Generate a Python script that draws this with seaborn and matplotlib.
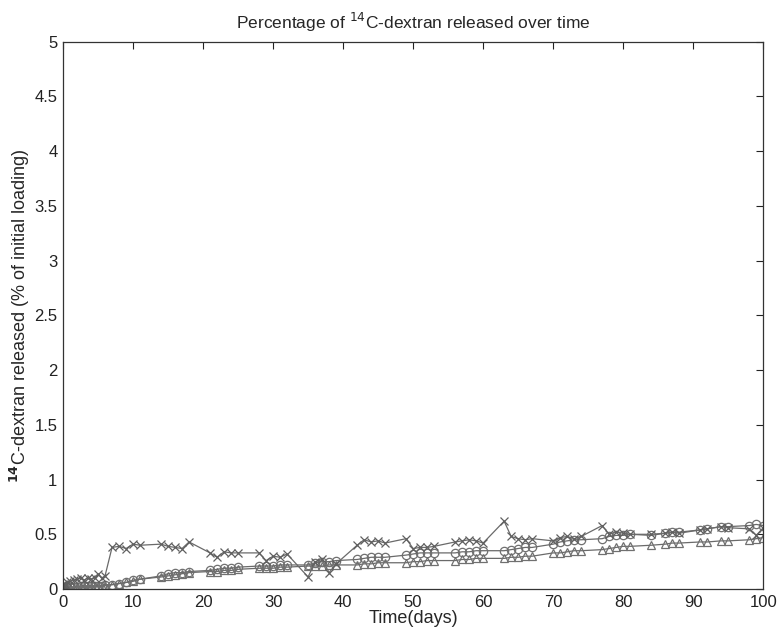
import matplotlib
matplotlib.use("Agg")
import matplotlib.pyplot as plt
import seaborn as sns
import pandas as pd

days = [0, 0.04, 0.08, 0.17, 0.25, 0.5, 1, 1.5, 2, 2.5, 3, 3.5, 4, 4.5, 5, 5.5, 6,
        7, 8, 9, 10, 11, 14, 15, 16, 17, 18, 21, 22, 23, 24, 25, 28, 29, 30, 31, 32,
        35, 36, 37, 38, 39, 42, 43, 44, 45, 46, 49, 50, 51, 52, 53, 56, 57, 58, 59, 60,
        63, 64, 65, 66, 67, 70, 71, 72, 73, 74, 77, 78, 79, 80, 81, 84, 86, 87, 88,
        91, 92, 94, 95, 98, 99, 100]

cross_vals = [0.05, 0.02, 0.03, 0.04, 0.05, 0.06, 0.07, 0.08, 0.09, 0.10, 0.08, 0.10, 0.09, 0.10, 0.14, 0.10, 0.12,
              0.38, 0.39, 0.37, 0.41, 0.40, 0.41, 0.39, 0.38, 0.37, 0.43, 0.33, 0.29, 0.34, 0.33, 0.33,
              0.33, 0.26, 0.30, 0.29, 0.32, 0.11, 0.25, 0.27, 0.15, 0.23, 0.40, 0.45, 0.43, 0.44, 0.42,
              0.46, 0.37, 0.38, 0.38, 0.39, 0.43, 0.44, 0.45, 0.44, 0.42, 0.62, 0.48, 0.46, 0.45, 0.46,
              0.44, 0.47, 0.48, 0.46, 0.48, 0.58, 0.50, 0.52, 0.51, 0.50, 0.50, 0.51, 0.52, 0.51,
              0.54, 0.55, 0.57, 0.56, 0.55, 0.49, 0.56]

circle_vals = [0.02, 0.01, 0.01, 0.01, 0.01, 0.02, 0.02, 0.02, 0.02, 0.03, 0.03, 0.03, 0.03, 0.03, 0.03, 0.03, 0.04,
               0.04, 0.05, 0.06, 0.08, 0.09, 0.12, 0.14, 0.15, 0.15, 0.16, 0.17, 0.18, 0.19, 0.19, 0.20,
               0.21, 0.21, 0.21, 0.22, 0.22, 0.22, 0.24, 0.25, 0.25, 0.26, 0.27, 0.28, 0.29, 0.29, 0.29,
               0.31, 0.32, 0.33, 0.33, 0.33, 0.33, 0.34, 0.34, 0.35, 0.35, 0.35, 0.36, 0.37, 0.38, 0.38,
               0.41, 0.43, 0.44, 0.45, 0.45, 0.46, 0.48, 0.49, 0.49, 0.50, 0.49, 0.51, 0.52, 0.52,
               0.54, 0.55, 0.57, 0.57, 0.58, 0.59, 0.58]

tri_vals = [0.00, 0.00, 0.00, 0.01, 0.01, 0.01, 0.01, 0.01, 0.02, 0.02, 0.02, 0.02, 0.02, 0.03, 0.03, 0.03, 0.03,
            0.04, 0.05, 0.06, 0.07, 0.09, 0.11, 0.12, 0.13, 0.14, 0.15, 0.16, 0.16, 0.17, 0.17, 0.18,
            0.19, 0.19, 0.19, 0.20, 0.20, 0.21, 0.21, 0.21, 0.22, 0.22, 0.22, 0.23, 0.23, 0.24, 0.24,
            0.24, 0.25, 0.25, 0.26, 0.26, 0.26, 0.27, 0.27, 0.28, 0.28, 0.28, 0.29, 0.29, 0.30, 0.30,
            0.33, 0.33, 0.34, 0.35, 0.35, 0.36, 0.37, 0.38, 0.39, 0.39, 0.40, 0.41, 0.42, 0.42,
            0.43, 0.43, 0.44, 0.44, 0.45, 0.46, 0.47]

xticks = [0, 10, 20, 30, 40, 50, 60, 70, 80, 90, 100]
yticks = [0, 0.5, 1, 1.5, 2, 2.5, 3, 3.5, 4, 4.5, 5]
ytick_labels = ["0", "0.5", "1", "1.5", "2", "2.5", "3", "3.5", "4", "4.5", "5"]

sns.set_style("white")
plt.rcParams['font.family'] = ['Liberation Sans', 'DejaVu Sans']

fig = plt.figure(figsize=(7.78, 6.32), dpi=100)
ax = fig.add_axes([0.081, 0.068, 0.900, 0.866])

df_c = pd.DataFrame({"day": days, "val": cross_vals})
df_o = pd.DataFrame({"day": days, "val": circle_vals})
df_t = pd.DataFrame({"day": days, "val": tri_vals})

common = dict(x="day", y="val", ax=ax, color="#6a6a6a", linewidth=0.9,
              markersize=6, markerfacecolor="none", markeredgewidth=0.9, errorbar=None)
sns.lineplot(data=df_t, marker="^", markeredgecolor="#707070", **common)
sns.lineplot(data=df_o, marker="o", markeredgecolor="#707070", **common)
sns.lineplot(data=df_c, marker="x", markeredgecolor="#606060", **common)

ax.set_xlim(0, 100)
ax.set_ylim(0, 5)
ax.set_xticks(xticks)
ax.set_xticklabels([str(t) for t in xticks])
ax.set_yticks(yticks)
ax.set_yticklabels(ytick_labels)
ax.tick_params(direction="in", top=True, right=True, length=5, width=0.8,
               labelsize=12, colors="#222222", pad=4)
for s in ax.spines.values():
    s.set_color("#333333")
    s.set_linewidth(0.9)

ax.set_title("Percentage of $^{14}$C-dextran released over time", fontsize=12.5, pad=9)
ax.set_xlabel("Time(days)", fontsize=13, labelpad=0)
ax.set_ylabel("$^{\\mathbf{14}}$C-dextran released (% of initial loading)", fontsize=13, labelpad=2)

fig.savefig("out.png", dpi=100)
